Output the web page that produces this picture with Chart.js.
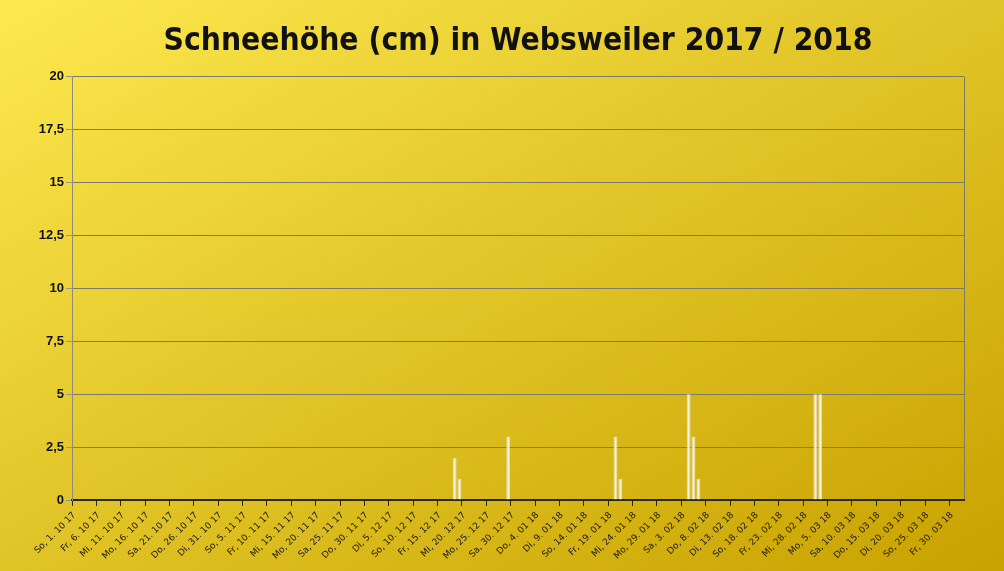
<!DOCTYPE html>
<html>
<head>
<meta charset="utf-8">
<script src="https://cdn.jsdelivr.net/npm/chart.js@4"></script>
<style>
  html, body { margin: 0; padding: 0; }
  body { width: 1004px; height: 571px; overflow: hidden;
    background: linear-gradient(to bottom right, #fde94e 0%, #e3c72a 45%, #c8a200 100%); }
  canvas { display: block; }
</style>
</head>
<body>
<canvas id="snowChart" width="1004" height="571"></canvas>
<script>
// season starts 1.10.2017, one category per day
const startYear = 2017, startMonth = 9, startDay = 1;
const dayCount = 183;
const weekdays = ['So', 'Mo', 'Di', 'Mi', 'Do', 'Fr', 'Sa'];

// days with snow and measured height (cm)
const snowDates = ['2017-12-18', '2017-12-19', '2017-12-29', '2018-01-20', '2018-01-21',
  '2018-02-04', '2018-02-05', '2018-02-06', '2018-03-02', '2018-03-03'];
const snowCm = [2, 1, 3, 3, 1, 5, 3, 1, 5, 5];

const yTicks = [0, 2.5, 5, 7.5, 10, 12.5, 15, 17.5, 20];

const labels = [];
const keys = [];
for (let i = 0; i < dayCount; i++) {
  const d = new Date(Date.UTC(startYear, startMonth, startDay + i));
  const mm = String(d.getUTCMonth() + 1).padStart(2, '0');
  const yy = String(d.getUTCFullYear()).slice(2);
  labels.push(`${weekdays[d.getUTCDay()]}, ${d.getUTCDate()}. ${mm} ${yy}`);
  keys.push(d.toISOString().slice(0, 10));
}
const heights = keys.map(k => {
  const idx = snowDates.indexOf(k);
  return idx >= 0 ? snowCm[idx] : 0;
});

const ctx = document.getElementById('snowChart').getContext('2d');
new Chart(ctx, {
  type: 'bar',
  data: {
    labels: labels,
    datasets: [{
      label: 'Schneehöhe',
      data: heights,
      backgroundColor: 'rgba(248, 245, 232, 0.95)',
      borderColor: 'rgba(232, 222, 180, 1)',
      borderWidth: 1,
      categoryPercentage: 1,
      barPercentage: 0.8
    }]
  },
  options: {
    responsive: false,
    animation: false,
    layout: { padding: { left: 6, right: 40, top: 0, bottom: 0 } },
    plugins: {
      legend: { display: false },
      tooltip: { enabled: false },
      title: {
        display: true,
        fullSize: false,
        text: 'Schneehöhe (cm) in Websweiler 2017 / 2018',
        color: '#111',
        font: { family: '"DejaVu Sans Condensed", "DejaVu Sans", sans-serif', size: 31.5, weight: 'bold' },
        padding: { top: 23, bottom: 16 }
      }
    },
    scales: {
      x: {
        offset: true,
        grid: {
          offset: true,
          drawOnChartArea: true,
          color: c => c.tick ? 'transparent' : '#7d7a6a',
          tickColor: c => (c.tick && c.index % 5 === 0) ? '#2a2614' : 'transparent',
          tickLength: 6
        },
        border: { display: true, color: '#2a2614', width: 2 },
        ticks: {
          autoSkip: false,
          minRotation: 45,
          maxRotation: 45,
          padding: 4,
          color: '#1e1a10',
          font: { family: '"DejaVu Sans", sans-serif', size: 9 },
          callback: (v, i) => i % 5 === 0 ? labels[i] : ''
        },
        afterFit: s => { s.height = 71; }
      },
      y: {
        min: 0,
        max: 20,
        afterBuildTicks: s => { s.ticks = yTicks.map(v => ({ value: v })); },
        grid: { color: '#7d7a6a', tickColor: '#9a9684', tickLength: 6 },
        border: { display: true, color: '#8f8c7c' },
        ticks: {
          color: '#111',
          padding: 2,
          font: { family: '"Liberation Sans", Arial, sans-serif', size: 13, weight: 'bold' },
          callback: v => String(v).replace('.', ',')
        },
        afterFit: s => { s.width = 66; }
      }
    }
  }
});
</script>
</body>
</html>
